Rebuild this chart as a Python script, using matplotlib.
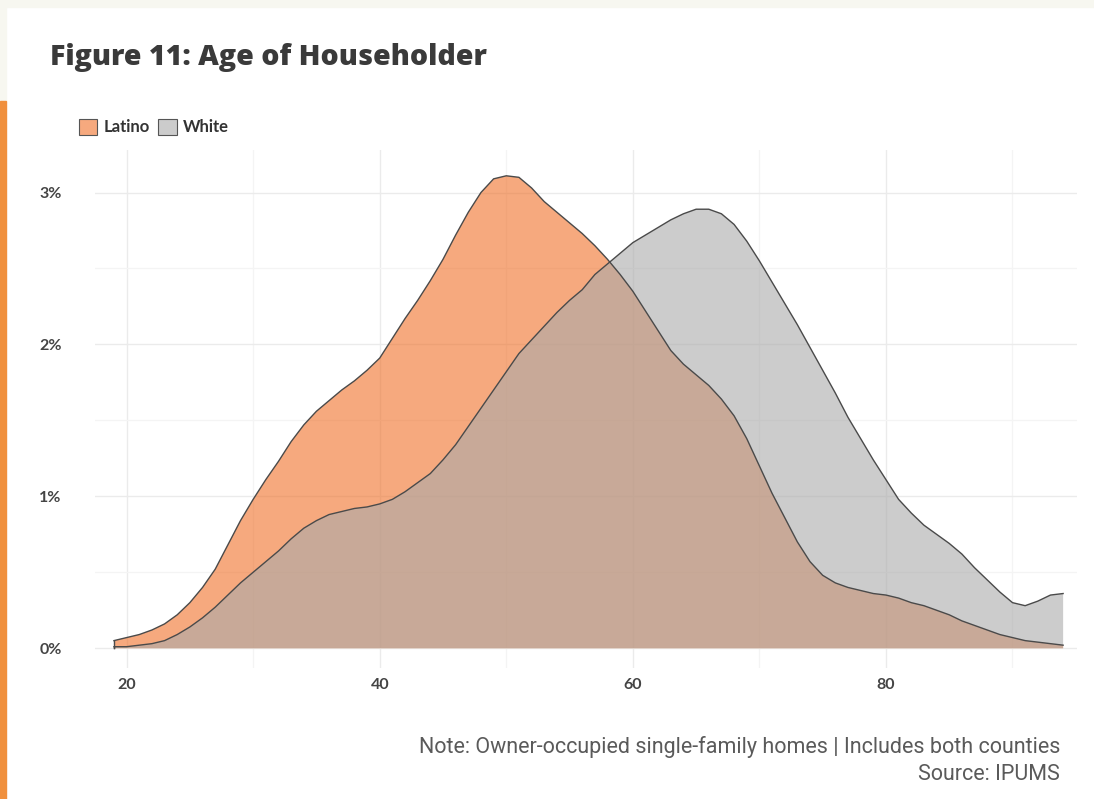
import matplotlib
matplotlib.use("Agg")
import matplotlib.pyplot as plt
from matplotlib.patches import Rectangle
from matplotlib.ticker import FuncFormatter, MultipleLocator

plt.rcParams['font.family'] = ['Lato', 'DejaVu Sans']

# Ages (years) and density (% of householders)
ages = list(range(19, 95))
latino = [0.05, 0.07, 0.09, 0.12, 0.16, 0.22, 0.30, 0.40, 0.52, 0.68,
          0.84, 0.98, 1.11, 1.23, 1.36, 1.47, 1.56, 1.63, 1.70, 1.76,
          1.83, 1.91, 2.04, 2.17, 2.29, 2.42, 2.56, 2.72, 2.87, 3.00,
          3.09, 3.11, 3.10, 3.03, 2.94, 2.87, 2.80, 2.73, 2.65, 2.56,
          2.46, 2.35, 2.22, 2.09, 1.96, 1.87, 1.80, 1.73, 1.64, 1.53,
          1.38, 1.20, 1.02, 0.86, 0.70, 0.57, 0.48, 0.43, 0.40, 0.38,
          0.36, 0.35, 0.33, 0.30, 0.28, 0.25, 0.22, 0.18, 0.15, 0.12,
          0.09, 0.07, 0.05, 0.04, 0.03, 0.02]
white = [0.01, 0.01, 0.02, 0.03, 0.05, 0.09, 0.14, 0.20, 0.27, 0.35,
         0.43, 0.50, 0.57, 0.64, 0.72, 0.79, 0.84, 0.88, 0.90, 0.92,
         0.93, 0.95, 0.98, 1.03, 1.09, 1.15, 1.24, 1.34, 1.46, 1.58,
         1.70, 1.82, 1.94, 2.03, 2.12, 2.21, 2.29, 2.36, 2.46, 2.53,
         2.60, 2.67, 2.72, 2.77, 2.82, 2.86, 2.89, 2.89, 2.86, 2.79,
         2.68, 2.55, 2.41, 2.27, 2.13, 1.98, 1.83, 1.68, 1.52, 1.38,
         1.24, 1.11, 0.98, 0.89, 0.81, 0.75, 0.69, 0.62, 0.53, 0.45,
         0.37, 0.30, 0.28, 0.31, 0.35, 0.36]

groups = ["Latino", "White"]
series = [latino, white]
fills = ["#F07028", "#AAAAAA"]

fig = plt.figure(figsize=(10.94, 7.99), dpi=100)
fig.patch.set_facecolor("white")

# page decoration: cream top strip and left bar
fig.patches.append(Rectangle((0, 1 - 7 / 799), 1, 7 / 799, transform=fig.transFigure,
                             color="#F7F7F0", zorder=0))
fig.patches.append(Rectangle((0, 1 - 101 / 799), 6 / 1094, 101 / 799, transform=fig.transFigure,
                             color="#F7F7F0", zorder=0))
fig.patches.append(Rectangle((0, 0), 6 / 1094, 1 - 101 / 799, transform=fig.transFigure,
                             color="#F0903E", zorder=0))

ax = fig.add_axes([0.0868, 0.164, 0.8977, 0.6483])
ax.set_facecolor("white")

for name, vals, col in zip(groups, series, fills):
    ax.fill_between(ages, 0, vals, facecolor=col, alpha=0.6, edgecolor="none", label=name)
    ax.plot(ages, vals, color="#4a4a4a", lw=1.0, solid_joinstyle="round")
    ax.plot([ages[0], ages[0]], [0, vals[0]], color="#4a4a4a", lw=1.0)

ax.set_xlim(17.5, 95.1)
ax.set_ylim(-0.13, 3.28)
ax.xaxis.set_major_locator(MultipleLocator(20))
ax.xaxis.set_minor_locator(MultipleLocator(10))
ax.yaxis.set_major_locator(MultipleLocator(1))
ax.yaxis.set_minor_locator(MultipleLocator(0.5))
ax.yaxis.set_major_formatter(FuncFormatter(lambda v, p: f"{v:.0f}%"))
ax.grid(which="major", color="#EBEBEB", lw=1.0)
ax.grid(which="minor", color="#F4F4F4", lw=0.9)
ax.set_axisbelow(True)
for s in ax.spines.values():
    s.set_visible(False)
ax.tick_params(which="both", length=0)
ax.tick_params(axis="x", labelsize=11.5, labelcolor="#444444", pad=7)
ax.tick_params(axis="y", labelsize=11.5, labelcolor="#444444", pad=24)
for lab in ax.get_xticklabels() + ax.get_yticklabels():
    lab.set_fontweight("bold")

leg = fig.legend(loc="center left", bbox_to_anchor=(72 / 1094, 1 - 127 / 799), ncol=2,
                 frameon=False, fontsize=12, handlelength=1.1, handleheight=1.1,
                 handletextpad=0.4, columnspacing=0.5, borderaxespad=0)
for h in leg.legend_handles:
    h.set_edgecolor("#555555")
    h.set_linewidth(0.8)
for t in leg.get_texts():
    t.set_color("#333333")
    t.set_fontweight("bold")

fig.text(50 / 1094, 1 - 57 / 799, "Figure 11: Age of Householder", fontsize=20.5,
         fontweight=800, family=["Open Sans", "DejaVu Sans"], color="#3a3a3a",
         va="center", ha="left")
fig.text(1060 / 1094, 1 - 747 / 799,
         "Note: Owner-occupied single-family homes | Includes both counties",
         fontsize=15.5, family=["Roboto", "DejaVu Sans"], color="#5a5a5a",
         ha="right", va="center")
fig.text(1060 / 1094, 1 - 775 / 799, "Source: IPUMS", fontsize=15.5,
         family=["Roboto", "DejaVu Sans"], color="#5a5a5a", ha="right", va="center")

fig.savefig("out.png", dpi=100)
